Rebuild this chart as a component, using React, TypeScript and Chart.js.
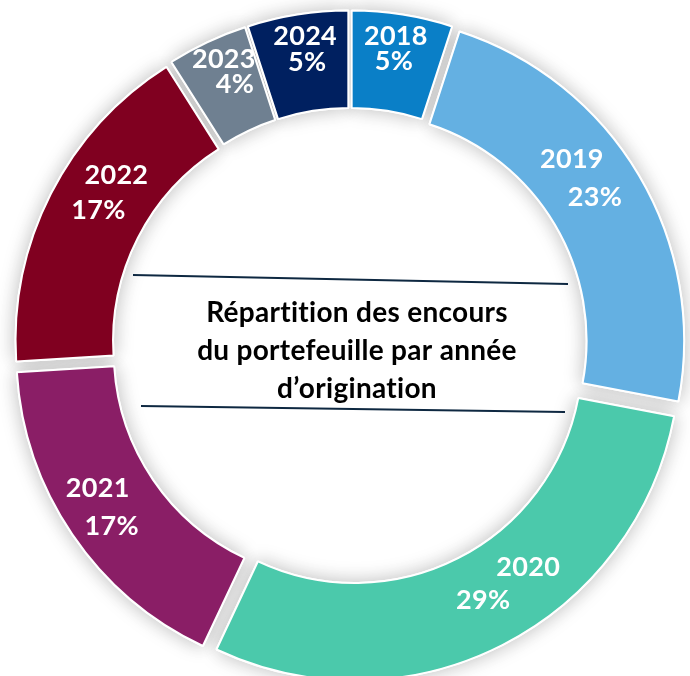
import { useEffect, useRef } from 'react';
import { Chart, registerables } from 'chart.js';

Chart.register(...registerables);

// ---- data ----
const years = ['2018', '2019', '2020', '2021', '2022', '2023', '2024'];
const shares = [5, 23, 29, 17, 17, 4, 5];
const pctLabels = ['5%', '23%', '29%', '17%', '17%', '4%', '5%'];
const centerTitle = ['Répartition des encours', 'du portefeuille par année', 'd’origination'];

// ---- styles ----
const colors = ['#0A7FC7', '#64B0E2', '#4BC9AB', '#8A1E66', '#800020', '#6F8091', '#002060'];
// label nudges relative to the arc's mid point: [yearDx, yearDy, pctDx, pctDy]
const labelNudges = [
  [1, -26, -1, -1],
  [-25, -41, -2, -3],
  [48, -34, 3, -1],
  [-15, -19, -1, 19],
  [22, -40, 4, -5],
  [-4, -27, 7, -2],
  [0, -26, 2, 0],
];
const EXPLODE = 10.6;
const FONT = 'Lato, "Open Sans", sans-serif';

const ringPlugin = {
  id: 'explodedRing',
  beforeDatasetsDraw(chart: any) {
    const ctx: CanvasRenderingContext2D = chart.ctx;
    const arcs = chart.getDatasetMeta(0).data;
    const pass = (shadow: boolean) => {
      arcs.forEach((arc: any) => {
        const mid = (arc.startAngle + arc.endAngle) / 2;
        ctx.save();
        if (shadow) {
          ctx.shadowColor = 'rgba(0,0,0,0.26)';
          ctx.shadowBlur = 20;
        }
        ctx.translate(Math.cos(mid) * EXPLODE, Math.sin(mid) * EXPLODE);
        arc.draw(ctx);
        ctx.restore();
      });
    };
    pass(true);
    pass(false);
    return false;
  },
  afterDraw(chart: any) {
    const ctx: CanvasRenderingContext2D = chart.ctx;
    const arcs = chart.getDatasetMeta(0).data;
    ctx.save();
    (ctx as any).letterSpacing = '0.3px';
    ctx.fillStyle = '#ffffff';
    ctx.textAlign = 'center';
    ctx.textBaseline = 'middle';
    ctx.font = `bold 27px ${FONT}`;
    arcs.forEach((arc: any, i: number) => {
      const mid = (arc.startAngle + arc.endAngle) / 2;
      const r = (arc.innerRadius + arc.outerRadius) / 2 + EXPLODE;
      const ax = arc.x + Math.cos(mid) * r;
      const ay = arc.y + Math.sin(mid) * r;
      const n = labelNudges[i];
      ctx.fillText(years[i], ax + n[0], ay + n[1]);
      ctx.fillText(pctLabels[i], ax + n[2], ay + n[3]);
    });

    const cx = arcs[0].x;
    const cy = arcs[0].y;
    // rules above and below the centre title
    ctx.strokeStyle = '#0E2841';
    ctx.lineWidth = 2;
    ctx.beginPath();
    ctx.moveTo(cx - 217, cy - 71);
    ctx.lineTo(cx + 218, cy - 62);
    ctx.moveTo(cx - 209, cy + 60);
    ctx.lineTo(cx + 215, cy + 66);
    ctx.stroke();

    ctx.fillStyle = '#000000';
    ctx.font = `bold 28px ${FONT}`;
    centerTitle.forEach((line, k) => {
      ctx.fillText(line, cx + 7, cy - 33 + k * 38);
    });
    ctx.restore();
  },
};

export default function App() {
  const ref = useRef<HTMLCanvasElement>(null);
  useEffect(() => {
    if (!ref.current) return;
    const chart = new Chart(ref.current, {
      type: 'doughnut',
      data: {
        labels: years,
        datasets: [
          {
            data: shares,
            backgroundColor: colors,
            borderColor: '#ffffff',
            borderWidth: 2,
            hoverOffset: 0,
          },
        ],
      },
      options: {
        responsive: false,
        animation: false,
        cutout: '70%',
        layout: { padding: { left: 24, right: 14, top: 20, bottom: 4 } },
        plugins: {
          legend: { display: false },
          tooltip: { enabled: false },
        },
      },
      plugins: [ringPlugin],
    });
    return () => chart.destroy();
  }, []);
  return (
    <div style={{ position: 'absolute', left: 0, top: 0, width: 690, height: 676, overflow: 'hidden', background: '#fff' }}>
      <canvas ref={ref} width={690} height={676} style={{ display: 'block' }} />
    </div>
  );
}
